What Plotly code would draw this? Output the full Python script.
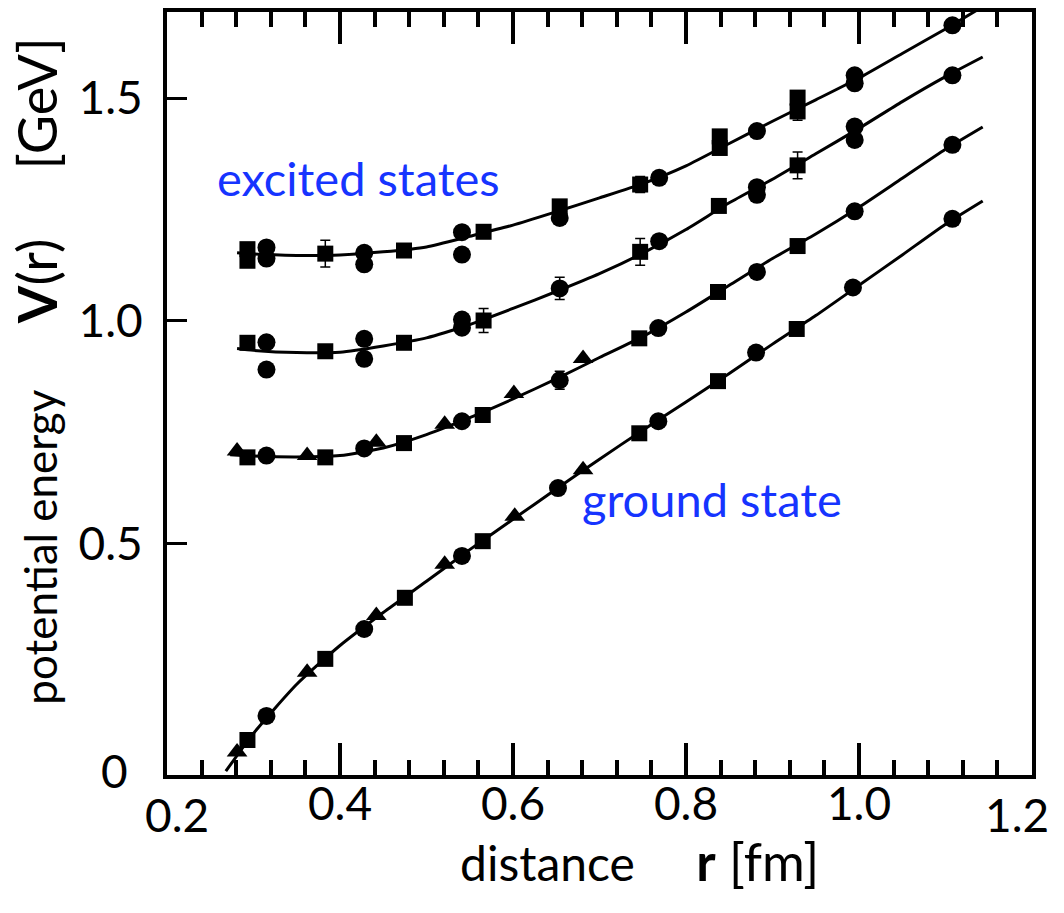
import plotly.graph_objects as go

# ---------------- data ----------------
# ground state
gs_sq_x = [0.293, 0.383, 0.475, 0.565, 0.746, 0.837, 0.928]
gs_sq_y = [0.060, 0.242, 0.379, 0.506, 0.748, 0.865, 0.982]
gs_ci_x = [0.315, 0.428, 0.541, 0.652, 0.768, 0.881, 0.993, 1.108]
gs_ci_y = [0.114, 0.309, 0.473, 0.625, 0.775, 0.929, 1.075, 1.229]
gs_tr_x = [0.281, 0.362, 0.442, 0.521, 0.602, 0.681]
gs_tr_y = [0.033, 0.212, 0.339, 0.454, 0.562, 0.666]
gs_fit_x = [0.268, 0.30, 0.35, 0.40, 0.45, 0.50, 0.55, 0.60, 0.65, 0.70,
            0.75, 0.80, 0.85, 0.90, 0.95, 1.00, 1.05, 1.10, 1.143]
gs_fit_y = [-0.01, 0.075, 0.185, 0.272, 0.346, 0.416, 0.487, 0.555, 0.623, 0.69,
            0.755, 0.818, 0.882, 0.948, 1.012, 1.08, 1.148, 1.217, 1.269]

# first excited state
e1_sq_x = [0.293, 0.383, 0.474, 0.565, 0.746, 0.837, 0.929]
e1_sq_y = [0.694, 0.694, 0.726, 0.789, 0.961, 1.065, 1.168]
e1_ci_x = [0.315, 0.428, 0.541, 0.654, 0.768, 0.882, 0.995, 1.108]
e1_ci_y = [0.698, 0.714, 0.775, 0.867, 0.984, 1.110, 1.246, 1.395]
e1_ci_err = [0, 0, 0, 0.02, 0, 0, 0, 0]
e1_tr_x = [0.281, 0.362, 0.442, 0.521, 0.601, 0.681]
e1_tr_y = [0.708, 0.698, 0.728, 0.768, 0.837, 0.916]
e1_fit_x = [0.273, 0.30, 0.35, 0.40, 0.45, 0.50, 0.55, 0.60, 0.65, 0.70,
            0.75, 0.80, 0.85, 0.90, 0.95, 1.00, 1.05, 1.10, 1.143]
e1_fit_y = [0.700, 0.697, 0.695, 0.698, 0.715, 0.745, 0.783, 0.825, 0.870, 0.918,
            0.965, 1.020, 1.080, 1.140, 1.195, 1.255, 1.320, 1.385, 1.435]

# second excited state
e2_sq_x = [0.293, 0.383, 0.474, 0.566, 0.747, 0.838, 0.929]
e2_sq_y = [0.951, 0.932, 0.951, 1.001, 1.155, 1.258, 1.349]
e2_sq_err = [0, 0, 0, 0.027, 0.03, 0, 0.03]
e2_ci_x = [0.315, 0.315, 0.428, 0.428, 0.541, 0.541, 0.654, 0.769, 0.882, 0.882, 0.995, 0.995, 1.108]
e2_ci_y = [0.952, 0.891, 0.960, 0.915, 1.003, 0.985, 1.073, 1.179, 1.300, 1.283, 1.436, 1.406, 1.551]
e2_ci_err = [0, 0, 0, 0, 0, 0, 0.025, 0, 0, 0, 0, 0, 0]
e2_fit_x = [0.281, 0.30, 0.35, 0.40, 0.45, 0.50, 0.55, 0.60, 0.65, 0.70,
            0.75, 0.80, 0.85, 0.90, 0.95, 1.00, 1.05, 1.10, 1.143]
e2_fit_y = [0.938, 0.934, 0.929, 0.930, 0.944, 0.962, 0.992, 1.028, 1.066, 1.106,
            1.152, 1.205, 1.265, 1.318, 1.375, 1.432, 1.492, 1.548, 1.592]

# third excited state
e3_sq_x = [0.293, 0.293, 0.383, 0.474, 0.566, 0.654, 0.747, 0.839, 0.839, 0.929, 0.929]
e3_sq_y = [1.161, 1.135, 1.151, 1.158, 1.200, 1.257, 1.306, 1.414, 1.388, 1.501, 1.470]
e3_sq_err = [0, 0, 0.03, 0, 0, 0, 0.018, 0, 0, 0, 0.02]
e3_ci_x = [0.315, 0.315, 0.428, 0.428, 0.541, 0.541, 0.654, 0.769, 0.882, 0.995, 0.995, 1.108]
e3_ci_y = [1.165, 1.140, 1.153, 1.127, 1.199, 1.149, 1.231, 1.321, 1.426, 1.551, 1.533, 1.663]
e3_fit_x = [0.281, 0.30, 0.35, 0.40, 0.45, 0.50, 0.55, 0.60, 0.65, 0.70,
            0.75, 0.80, 0.85, 0.90, 0.95, 1.00, 1.05, 1.10, 1.143]
e3_fit_y = [1.153, 1.150, 1.147, 1.148, 1.155, 1.166, 1.190, 1.215, 1.245, 1.276,
            1.308, 1.348, 1.398, 1.448, 1.496, 1.545, 1.600, 1.655, 1.705]

x_tickvals = [0.2, 0.4, 0.6, 0.8, 1.0, 1.2]
x_ticktext = ["", "0.4", "0.6", "0.8", "1.0", ""]
y_tickvals = [0.5, 1.0, 1.5]
y_ticktext = ["0.5", "1.0", "1.5"]

# ---------------- figure ----------------
BLUE = "rgb(22,52,255)"
FONT = "Lato"
fig = go.Figure()

fits = [(gs_fit_x, gs_fit_y), (e1_fit_x, e1_fit_y), (e2_fit_x, e2_fit_y), (e3_fit_x, e3_fit_y)]
for fx, fy in fits:
    fig.add_trace(go.Scatter(x=fx, y=fy, mode="lines",
                             line=dict(color="black", width=3, shape="spline", smoothing=0.6),
                             hoverinfo="skip", showlegend=False))

def pts(x, y, symbol, size, err=None):
    kw = {}
    if err is not None:
        kw["error_y"] = dict(type="data", array=err, visible=True, color="black", thickness=1.5, width=5)
    fig.add_trace(go.Scatter(x=x, y=y, mode="markers",
                             marker=dict(symbol=symbol, size=size, color="black", line=dict(width=0)),
                             showlegend=False, **kw))

pts(gs_sq_x, gs_sq_y, "square", 16)
pts(gs_ci_x, gs_ci_y, "circle", 18)
pts(gs_tr_x, gs_tr_y, "triangle-up", 18)
pts(e1_sq_x, e1_sq_y, "square", 16)
pts(e1_ci_x, e1_ci_y, "circle", 18, e1_ci_err)
pts(e1_tr_x, e1_tr_y, "triangle-up", 18)
pts(e2_sq_x, e2_sq_y, "square", 16, e2_sq_err)
pts(e2_ci_x, e2_ci_y, "circle", 18, e2_ci_err)
pts(e3_sq_x, e3_sq_y, "square", 16, e3_sq_err)
pts(e3_ci_x, e3_ci_y, "circle", 18)

NB = "\u00a0"
ZW = "\u200b"
x_title = ("distance" + NB * 5 +
           '<span style="font-size:52px"><b>r</b>' + NB + "[fm]</span>")
y_title = (ZW + NB * 4 + "potential energy" + NB * 6 +
           '<span style="font-size:54px"><b>V</b>(r)' + NB * 5 + "[GeV]</span>")

fig.update_layout(
    width=1064, height=913,
    margin=dict(l=167, r=32, t=8, b=138),
    plot_bgcolor="white", paper_bgcolor="white",
    font=dict(family=FONT, color="black"),
    xaxis=dict(range=[0.2, 1.2], tickmode="array", tickvals=x_tickvals, ticktext=x_ticktext,
               ticks="inside", ticklen=32, tickwidth=3.5, tickcolor="black",
               minor=dict(tickmode="linear", tick0=0.2, dtick=0.04, ticks="inside", ticklen=15,
                          tickwidth=3.5, tickcolor="black"),
               showline=True, linewidth=4, linecolor="black", mirror="allticks",
               showgrid=False, zeroline=False, ticklabelstandoff=-14,
               tickfont=dict(family=FONT, size=46, color="black")),
    yaxis=dict(range=[-0.0185, 1.693], tickmode="array", tickvals=y_tickvals, ticktext=y_ticktext,
               ticks="inside", ticklen=20, tickwidth=3, tickcolor="black",
               showline=True, linewidth=4, linecolor="black", mirror=True,
               showgrid=False, zeroline=False, ticklabelstandoff=11,
               tickfont=dict(family=FONT, size=46, color="black"),
               title=dict(text=y_title, font=dict(family=FONT, size=44, color="black"), standoff=8)),
)

# x axis title
fig.add_annotation(x=0.5468, y=-0.113, xref="paper", yref="paper", text=x_title, showarrow=False,
                   xanchor="center", yanchor="middle",
                   font=dict(family=FONT, size=48, color="black"))

# edge tick labels (shifted inward, as in the reference)
fig.add_annotation(x=0.2, y=0, xref="x", yref="paper", text="0.2", showarrow=False,
                   xanchor="center", yanchor="top", xshift=10, yshift=-10,
                   font=dict(family=FONT, size=46, color="black"))
fig.add_annotation(x=1.2, y=0, xref="x", yref="paper", text="1.2", showarrow=False,
                   xanchor="center", yanchor="top", xshift=-15, yshift=-10,
                   font=dict(family=FONT, size=46, color="black"))
fig.add_annotation(x=0, y=0, xref="paper", yref="y", text="0", showarrow=False,
                   xanchor="center", yanchor="middle", xshift=-53, yshift=-4,
                   font=dict(family=FONT, size=46, color="black"))

# state labels
fig.add_annotation(x=0.255, y=1.32, xref="x", yref="y", text="excited states", showarrow=False,
                   xanchor="left", yanchor="middle", font=dict(family=FONT, size=47, color=BLUE))
fig.add_annotation(x=0.678, y=0.60, xref="x", yref="y", text="ground state", showarrow=False,
                   xanchor="left", yanchor="middle", font=dict(family=FONT, size=47, color=BLUE))

fig.write_html("out.html")
